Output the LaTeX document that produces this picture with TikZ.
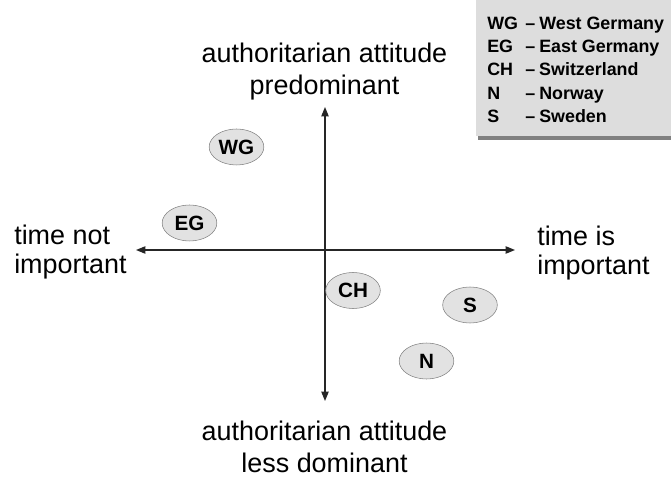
\documentclass[tikz,border=0pt]{standalone}
\usepackage{fontspec}
\setmainfont{Liberation Sans}
\usepackage{xcolor}
\usetikzlibrary{arrows.meta, positioning, shapes.geometric}
\definecolor{legendgray}{RGB}{221,221,221}
\definecolor{shadowgray}{RGB}{128,128,128}
\definecolor{ovalgray}{RGB}{226,226,226}
\tikzset{
  country/.style={draw=shadowgray, ellipse, fill=ovalgray, minimum width=41pt, minimum height=27pt, inner sep=0pt, font=\fontsize{15.5}{17}\selectfont\bfseries},
  axislabel/.style={inner sep=0pt, font=\fontsize{20.2}{23}\selectfont},
  axis/.style={{Triangle[length=7pt, width=5.5pt]}-{Triangle[length=7pt, width=5.5pt]}, line width=0.9pt, black!85}
}
\newcommand{\abbr}[2]{\makebox[28.5pt][l]{#1}\makebox[10.5pt][l]{--}#2}

\begin{document}
\begin{tikzpicture}[x=0.75pt, y=-0.75pt]
        \useasboundingbox (0,0) rectangle (671,477);

        % Legend
        \fill[shadowgray] (478,-2) rectangle (673,140);
        \fill[legendgray] (476,-2) rectangle (673,136);
        \node[anchor=north west, inner sep=0pt, align=left, font=\fontsize{13.4}{17.5}\selectfont\bfseries] (legend) at (487,16.5)
          {\abbr{WG}{West Germany}\\ \abbr{EG}{East Germany}\\ \abbr{CH}{Switzerland}\\ \abbr{N}{Norway}\\ \abbr{S}{Sweden}};

        % Axes
        \coordinate (north) at (325,107);
        \coordinate (south) at (325,401);
        \coordinate (west)  at (136,250);
        \coordinate (east)  at (515,250);
        \draw[axis] (south) -- (north);
        \draw[axis] (west) -- (east);

        % Axis labels
        \node[axislabel, anchor=base] (top1) at (324.5,63) {authoritarian attitude};
        \node[axislabel, anchor=base] (top2) at (324.5,95) {predominant};
        \node[axislabel, anchor=base] (bot1) at (324.5,440) {authoritarian attitude};
        \node[axislabel, anchor=base] (bot2) at (324.5,472) {less dominant};
        \node[axislabel, anchor=base west] (left1)  at (14,245)  {time not};
        \node[axislabel, anchor=base west] (left2)  at (14,274)  {important};
        \node[axislabel, anchor=base west] (right1) at (537,246) {time is};
        \node[axislabel, anchor=base west] (right2) at (537,275) {important};

        % Countries
        \node[country] (wg) at (236.5,147) {WG};
        \node[country] (eg) at (189.5,223) {EG};
        \node[country] (ch) at (353,290.5) {CH};
        \node[country] (s)  at (470,305)   {S};
        \node[country] (n)  at (426.5,361) {N};
    \end{tikzpicture}
\end{document}
